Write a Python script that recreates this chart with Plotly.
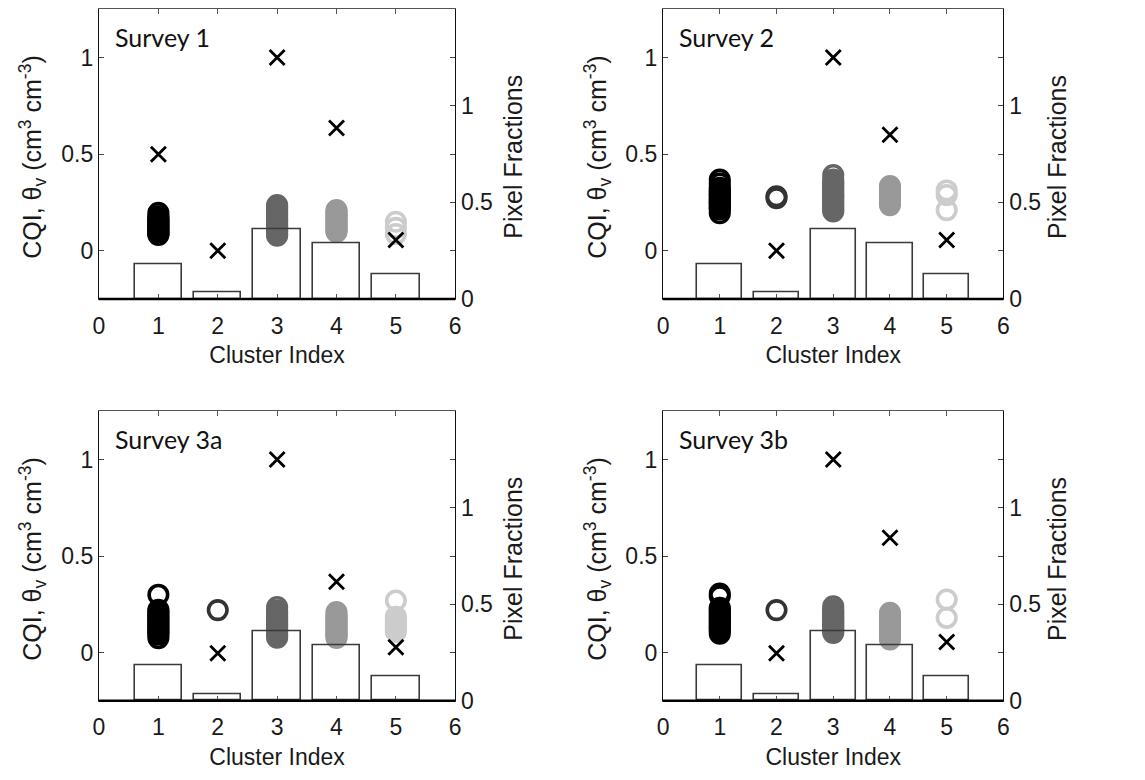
import plotly.graph_objects as go

# Cluster indices and per-cluster grey levels
clusters = [1, 2, 3, 4, 5]
cluster_colors = ["#000000", "#333333", "#666666", "#999999", "#cccccc"]

survey_names = ["Survey 1", "Survey 2", "Survey 3a", "Survey 3b"]

# Volumetric soil moisture samples (cm3 cm-3) in each cluster, per survey
theta_s1 = [
    [0.196, 0.178, 0.171, 0.163, 0.156, 0.149, 0.142, 0.135, 0.128, 0.121, 0.114, 0.107, 0.100, 0.093, 0.087, 0.081],
    [],
    [0.236, 0.226, 0.217, 0.208, 0.199, 0.190, 0.181, 0.172, 0.163, 0.154, 0.145, 0.136, 0.127, 0.118, 0.109, 0.100, 0.092, 0.084, 0.077],
    [0.210, 0.201, 0.192, 0.183, 0.174, 0.165, 0.156, 0.147, 0.138, 0.129, 0.120, 0.112, 0.104, 0.097],
    [0.150, 0.118, 0.086],
]
theta_s2 = [
    [0.368, 0.348, 0.326, 0.316, 0.306, 0.297, 0.288, 0.279, 0.270, 0.262, 0.254, 0.246, 0.238, 0.229, 0.221, 0.213, 0.194],
    [0.282, 0.272],
    [0.392, 0.368, 0.356, 0.345, 0.334, 0.323, 0.312, 0.301, 0.290, 0.279, 0.268, 0.257, 0.246, 0.235, 0.224, 0.213, 0.203],
    [0.335, 0.326, 0.317, 0.308, 0.299, 0.290, 0.281, 0.272, 0.263, 0.254, 0.245, 0.236],
    [0.312, 0.288, 0.210],
]
theta_s3a = [
    [0.300, 0.222, 0.212, 0.202, 0.192, 0.182, 0.172, 0.162, 0.152, 0.142, 0.132, 0.122, 0.112, 0.102, 0.094, 0.075],
    [0.220],
    [0.236, 0.218, 0.208, 0.198, 0.188, 0.178, 0.168, 0.158, 0.148, 0.138, 0.128, 0.118, 0.108, 0.098, 0.088, 0.077],
    [0.210, 0.194, 0.185, 0.176, 0.167, 0.158, 0.149, 0.140, 0.131, 0.122, 0.113, 0.104, 0.095, 0.086, 0.076],
    [0.270, 0.186, 0.172, 0.158, 0.145, 0.133, 0.121, 0.108],
]
theta_s3b = [
    [0.306, 0.292, 0.232, 0.222, 0.212, 0.202, 0.192, 0.182, 0.172, 0.162, 0.152, 0.142, 0.132, 0.122, 0.112, 0.098],
    [0.220],
    [0.240, 0.222, 0.212, 0.202, 0.192, 0.182, 0.172, 0.162, 0.152, 0.142, 0.132, 0.122, 0.112, 0.102],
    [0.206, 0.190, 0.181, 0.172, 0.163, 0.154, 0.145, 0.136, 0.127, 0.118, 0.109, 0.100, 0.091, 0.082, 0.068],
    [0.275, 0.180],
]
theta_all = [theta_s1, theta_s2, theta_s3a, theta_s3b]

# Normalised cluster quality index (CQI)
cqi_s1 = [0.500, 0.000, 1.000, 0.635, 0.055]
cqi_s2 = [0.280, 0.000, 1.000, 0.600, 0.055]
cqi_s3a = [0.150, -0.004, 1.000, 0.367, 0.027]
cqi_s3b = [0.170, -0.004, 1.000, 0.595, 0.055]
cqi_all = [cqi_s1, cqi_s2, cqi_s3a, cqi_s3b]

# Fraction of pixels assigned to each cluster
frac_s1 = [0.180, 0.035, 0.360, 0.290, 0.125]
frac_s2 = [0.180, 0.035, 0.360, 0.290, 0.125]
frac_s3a = [0.185, 0.034, 0.360, 0.290, 0.125]
frac_s3b = [0.185, 0.034, 0.360, 0.290, 0.125]
frac_all = [frac_s1, frac_s2, frac_s3a, frac_s3b]

x_ticks = [0, 1, 2, 3, 4, 5, 6]
left_ticks = [0, 0.5, 1]
left_tick_text = ["0", "0.5", "1"]
right_ticks = [0, 0.5, 1]
right_tick_text = ["0", "0.5", "1"]

W, H = 1145, 780
# panel placement in pixels: (left, right, top, bottom)
panel_px = [
    (94, 454, 9.5, 304),
    (664, 1008, 9.5, 304),
    (94, 454, 418.3, 712.7),
    (664, 1008, 418.3, 712.7),
]
left_title_x = [27, 598, 27, 598]
right_title_x = [512, 1062, 512, 1062]

tick_font = dict(family="Liberation Sans, Arial, sans-serif", size=23, color="#1a1a1a")
label_font = dict(family="Liberation Sans, Arial, sans-serif", size=23, color="#1a1a1a")
title_font = dict(family="Liberation Sans, Arial, sans-serif", size=25, color="#1a1a1a")
survey_font = dict(family="Lato, Open Sans, sans-serif", size=25, color="#111111")

fig = go.Figure()
layout = {}
annotations = []
shapes = []

for i in range(4):
    xa = "x" if i == 0 else f"x{i + 1}"
    yl = "y" if i == 0 else f"y{2 * i + 1}"
    yr = f"y{2 * i + 2}"
    xkey = "xaxis" if i == 0 else f"xaxis{i + 1}"
    ylkey = "yaxis" if i == 0 else f"yaxis{2 * i + 1}"
    yrkey = f"yaxis{2 * i + 2}"

    l, r, t, b = panel_px[i]
    xdom = [l / W, r / W]
    ydom = [1 - b / H, 1 - t / H]

    # soil moisture samples as open circles, one grey level per cluster
    for k, c in enumerate(clusters):
        vals = theta_all[i][k]
        if not vals:
            continue
        fig.add_trace(go.Scatter(
            x=[c] * len(vals), y=vals, mode="markers", xaxis=xa, yaxis=yl,
            marker=dict(symbol="circle-open", size=18.5, color=cluster_colors[k],
                        line=dict(width=3.6, color=cluster_colors[k])),
            showlegend=False, hoverinfo="y",
        ))

    # CQI crosses
    fig.add_trace(go.Scatter(
        x=clusters, y=cqi_all[i], mode="markers", xaxis=xa, yaxis=yl,
        marker=dict(symbol="x-thin", size=15, color="#000000",
                    line=dict(width=2.8, color="#000000")),
        showlegend=False, hoverinfo="y",
    ))

    # pixel fractions as outlined bars on the right-hand axis
    fig.add_trace(go.Bar(
        x=clusters, y=frac_all[i], width=0.8, xaxis=xa, yaxis=yr,
        marker=dict(color="rgba(0,0,0,0)", line=dict(color="#3a3a3a", width=1.6)),
        showlegend=False, hoverinfo="y",
    ))

    layout[xkey] = dict(
        domain=xdom, anchor=yl, range=[0, 6], tickvals=x_ticks,
        ticktext=[str(v) for v in x_ticks], ticks="inside", ticklen=5,
        tickcolor="#555", showline=True, linecolor="#555", linewidth=1,
        mirror="ticks", showgrid=False, zeroline=False, tickfont=tick_font,
        ticklabelstandoff=6,
        title=dict(text="Cluster Index", font=label_font, standoff=9),
        fixedrange=True,
    )
    layout[ylkey] = dict(
        domain=ydom, anchor=xa, range=[-0.25, 1.25], tickvals=left_ticks,
        ticktext=left_tick_text, ticks="inside", ticklen=5, tickcolor="#444",
        showline=True, linecolor="#111", linewidth=1.2, mirror="ticks",
        showgrid=False, zeroline=False, tickfont=tick_font, fixedrange=True,
    )
    layout[yrkey] = dict(
        overlaying=yl, anchor=xa, side="right", range=[0, 1.5],
        tickvals=right_ticks, ticktext=right_tick_text, ticks="inside",
        ticklen=5, tickcolor="#444", showline=True, linecolor="#111",
        linewidth=1.2, showgrid=False, zeroline=False, tickfont=tick_font,
        fixedrange=True,
    )

    # heavier baseline along the cluster axis
    shapes.append(dict(type="line", xref=f"{xa} domain", yref=f"{yl} domain",
                       x0=0, x1=1, y0=0, y1=0,
                       line=dict(color="#000", width=2.5)))

    annotations.append(dict(
        text=survey_names[i], xref=f"{xa} domain", yref=f"{yl} domain",
        x=0.04, y=0.905, xanchor="left", yanchor="middle", showarrow=False,
        font=survey_font,
    ))
    ycen = 1 - ((t + b) / 2 + 3) / H
    annotations.append(dict(
        text="CQI, \u03b8<sub>v</sub> (cm<sup>3</sup> cm<sup>-3</sup>)",
        xref="paper", yref="paper", x=left_title_x[i] / W, y=ycen,
        xanchor="center", yanchor="middle", textangle=-90, showarrow=False,
        font=title_font,
    ))
    annotations.append(dict(
        text="Pixel Fractions", xref="paper", yref="paper",
        x=right_title_x[i] / W, y=ycen, xanchor="center", yanchor="middle",
        textangle=-90, showarrow=False, font=title_font,
    ))

fig.update_layout(
    width=W, height=H, margin=dict(l=0, r=0, t=0, b=0),
    paper_bgcolor="white", plot_bgcolor="white", showlegend=False,
    annotations=annotations, shapes=shapes, bargap=0, **layout,
)

fig.write_html("out.html", config={"displayModeBar": False})
